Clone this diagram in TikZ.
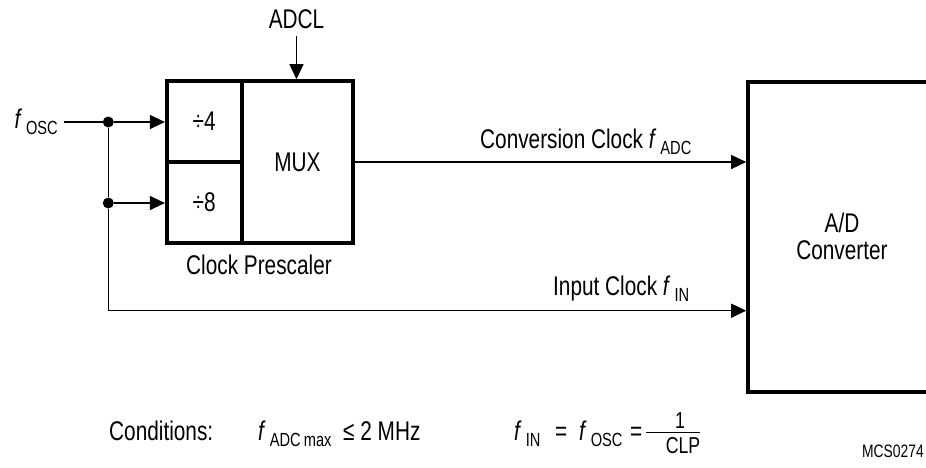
\documentclass[tikz,border=0pt]{standalone}
\usepackage{fontspec}
\setmainfont{Liberation Sans}[FakeStretch=0.77]
\usetikzlibrary{arrows.meta}
\newcommand{\fsub}[1]{\textit{f}\hspace{4pt}\raisebox{-6pt}{\fontsize{19}{21}\selectfont #1}}
\begin{document}
\begin{tikzpicture}[x=1pt,y=-1pt,
  font=\fontsize{27}{27}\selectfont,
  thickbox/.style={draw, line width=3.6pt, inner sep=0pt},
  wire/.style={line width=1.3pt},
  arr/.style={wire, -{Triangle[length=15pt,width=14pt]}},
  dotnode/.style={circle, fill, inner sep=0pt, minimum size=11pt},
  lbl/.style={inner sep=0pt, anchor=base},
  lblw/.style={inner sep=0pt, anchor=base west},
  lble/.style={inner sep=0pt, anchor=base east}]
\useasboundingbox (0,0) rectangle (926,467);
\clip (0,0) rectangle (926,467);
% prescaler
\node[thickbox, minimum width=75pt, minimum height=80.7pt] (div4) at (204.2,121.35) {÷4};
\node[thickbox, minimum width=75pt, minimum height=81.3pt] (div8) at (204.2,202.35) {÷8};
\node[thickbox, minimum width=111.3pt, minimum height=162pt] (mux) at (297.35,162) {MUX};
\node[lbl] (presc) at (259,274) {Clock Prescaler};
% ADC
\node[thickbox, minimum width=188pt, minimum height=310pt, align=center] (ad) at (842,236.7) {A/D\\Converter};
% ADCL
\node[lbl] (adcl) at (296.5,28) {ADCL};
\draw[arr] ([yshift=-8pt]adcl.south) -- (adcl.south |- mux.north);
% fosc input
\node[lble] (fosc) at (58,128) {\fsub{OSC}};
\coordinate (fin) at (64,122);
\node[dotnode] (d1) at (108.3,122) {};
\node[dotnode] (d2) at (108.3,203) {};
\coordinate (corner) at (108.3,310.7);
\draw[wire] (fin) -- (d1);
\draw[arr] (d1) -- (d1 -| div4.west);
\draw[arr] (d2) -- (d2 -| div8.west);
\draw[wire] (d1) -- (d2) -- (corner);
\draw[arr] (corner) -- (corner -| ad.west);
\draw[arr] (mux.east) -- (mux.east -| ad.west);
\node[lblw] (conv) at (480,148) {Conversion Clock \fsub{ADC}};
\node[lblw] (inclk) at (553,295) {Input Clock \fsub{IN}};
% conditions
\node[lblw] (cond) at (109,440) {Conditions:};
\node[lblw] (fadc) at (258,440) {\fsub{ADC\,max}};
\node[lblw] (le) at (343,440) {≤ 2 MHz};
\node[lblw] (fin2) at (514,440) {\fsub{IN}};
\node[lblw] (eq1) at (555,440) {=};
\node[lblw] (fosc2) at (579,440) {\fsub{OSC}};
\node[lblw] (eq2) at (630,440) {=};
\node[lbl, font=\fontsize{23}{24}\selectfont] (one) at (680,428) {1};
\node[lbl, font=\fontsize{23}{24}\selectfont] (clp) at (683,453) {CLP};
\draw[wire] (646,432.5) coordinate (bl) -- (700,432.5) coordinate (br);
\node[lble, font=\fontsize{18}{19}\selectfont] (mcs) at (924,457) {MCS0274};
\end{tikzpicture}
\end{document}
